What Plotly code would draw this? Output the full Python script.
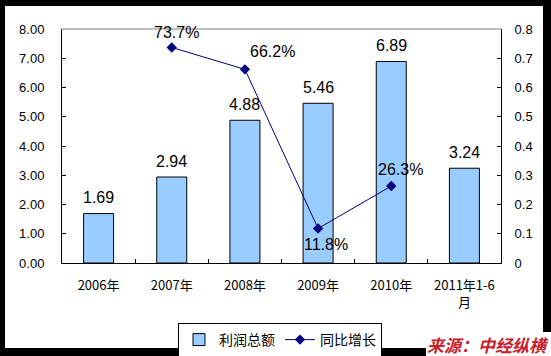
import plotly.graph_objects as go

categories = ["2006年", "2007年", "2008年", "2009年", "2010年", "2011年1-6<br>月"]
profit = [1.69, 2.94, 4.88, 5.46, 6.89, 3.24]
growth = [None, 0.737, 0.662, 0.118, 0.263, None]
growth_labels = [None, "73.7%", "66.2%", "11.8%", "26.3%", None]

left_ticks = [0, 1, 2, 3, 4, 5, 6, 7, 8]
right_ticks = [0, 0.1, 0.2, 0.3, 0.4, 0.5, 0.6, 0.7, 0.8]
right_tick_text = ["0", "0.1", "0.2", "0.3", "0.4", "0.5", "0.6", "0.7", "0.8"]

# label offsets (pixels) for the growth labels
growth_offsets = [None, (5, 15), (28, 18), (8, -16), (9, 17), None]

W, H = 551, 356
L, R, T, B = 62, 50, 29, 93
pw, ph = W - L - R, H - T - B


def px_x(p):
    return (p - L) / pw


def px_y(p):
    return (H - B - p) / ph


fig = go.Figure()
fig.add_trace(go.Bar(
    x=categories, y=profit, name="利润总额",
    marker=dict(color="#99CCFF", line=dict(color="black", width=1)),
    yaxis="y",
))
fig.add_trace(go.Scatter(
    x=categories, y=growth, name="同比增长", mode="lines+markers",
    line=dict(color="#000080", width=1),
    marker=dict(symbol="diamond", size=8, color="#000080"),
    yaxis="y2", connectgaps=False,
))

annotations = []
for c, v in zip(categories, profit):
    annotations.append(dict(
        x=c, y=v, xref="x", yref="y", text=f"{v:.2f}", showarrow=False,
        yanchor="middle", yshift=16,
        font=dict(family="Liberation Sans, Arial", size=16, color="black"),
    ))
for c, v, t, off in zip(categories, growth, growth_labels, growth_offsets):
    if v is None:
        continue
    annotations.append(dict(
        x=c, y=v, xref="x", yref="y2", text=t, showarrow=False,
        yanchor="middle", xshift=off[0], yshift=off[1],
        font=dict(family="Liberation Sans, Arial", size=16, color="black"),
    ))
annotations.append(dict(
    x=px_x(488), y=px_y(344), xref="paper", yref="paper", text="<b>来源：中经纵横</b>",
    showarrow=False, xanchor="center", yanchor="middle",
    font=dict(family="Noto Sans CJK SC", size=17, color="#C8202A", style="italic"),
))

shapes = [
    dict(type="rect", xref="paper", yref="paper", x0=px_x(5), x1=px_x(543),
         y0=px_y(348), y1=px_y(6), fillcolor="white", line=dict(width=0), layer="below"),
    dict(type="rect", xref="paper", yref="paper", x0=px_x(426), x1=px_x(560),
         y0=px_y(365), y1=px_y(332), fillcolor="white", line=dict(width=0), layer="below"),
    dict(type="line", xref="paper", yref="paper", x0=0, x1=1, y0=1, y1=1,
         line=dict(color="#808080", width=1)),
]

fig.update_layout(
    width=W, height=H,
    margin=dict(l=L, r=R, t=T, b=B, autoexpand=False),
    paper_bgcolor="black", plot_bgcolor="white",
    bargap=0.59,
    showlegend=True,
    legend=dict(
        orientation="h", x=px_x(280), xanchor="center", y=px_y(323), yanchor="top",
        bgcolor="white", bordercolor="black", borderwidth=1,
        font=dict(family="Noto Sans CJK SC", size=14, color="black"),
        itemwidth=30, tracegroupgap=0,
    ),
    xaxis=dict(
        type="category", showline=True, linecolor="black", linewidth=1,
        ticks="inside", tickson="boundaries", ticklen=4, tickcolor="black",
        showgrid=False, ticklabelstandoff=10,
        tickfont=dict(family="Noto Sans CJK SC", size=13, color="black"),
    ),
    yaxis=dict(
        range=[0, 8], tickvals=left_ticks, tickformat=".2f",
        showline=True, linecolor="black", linewidth=1,
        ticks="inside", ticklen=4, tickcolor="black", showgrid=False, zeroline=False,
        ticklabelstandoff=14,
        tickfont=dict(family="Liberation Sans, Arial", size=13, color="black"),
    ),
    yaxis2=dict(
        range=[0, 0.8], tickvals=right_ticks, ticktext=right_tick_text,
        overlaying="y", side="right",
        showline=True, linecolor="black", linewidth=1,
        ticks="inside", ticklen=4, tickcolor="black", showgrid=False, zeroline=False,
        ticklabelstandoff=10,
        tickfont=dict(family="Liberation Sans, Arial", size=13, color="black"),
    ),
    annotations=annotations,
    shapes=shapes,
)

fig.write_html("out.html", config={"displayModeBar": False},
               post_script="document.body.style.margin='0';")
